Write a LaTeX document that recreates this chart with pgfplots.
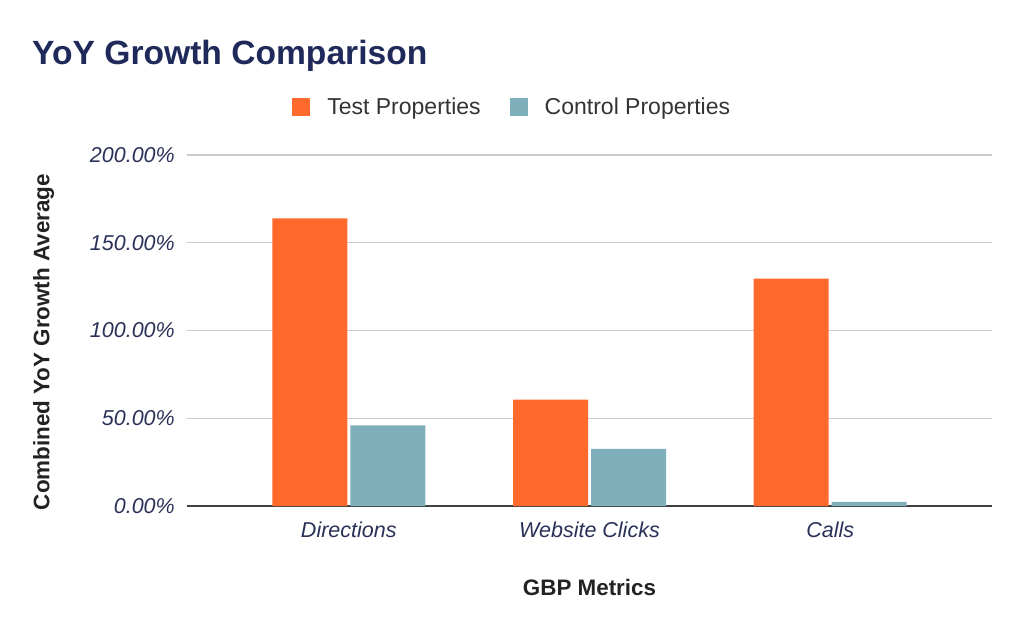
\documentclass[border=0pt]{standalone}
\usepackage{fontspec}
\setmainfont{Liberation Sans}
\usepackage{pgfplots}
\pgfplotsset{compat=1.18}
\definecolor{navy}{HTML}{1F2A5A}
\definecolor{tickc}{HTML}{2A3158}
\definecolor{testc}{HTML}{FF6A2C}
\definecolor{ctrlc}{HTML}{80AFBC}
\definecolor{gridc}{HTML}{CCCCCC}
\definecolor{labc}{HTML}{222222}
\definecolor{legc}{HTML}{333333}
\begin{document}
\begin{tikzpicture}[x=1pt,y=1pt]
\path[use as bounding box] (0,0) rectangle (1024,633);
\node[anchor=base west, inner sep=0, text=navy, font=\fontsize{33.6}{40}\selectfont\bfseries] at (32,568) {YoY Growth Comparison};
\begin{axis}[
  at={(187pt,127pt)}, anchor=south west,
  scale only axis, width=805pt, height=351pt,
  xmin=-0.672, xmax=2.672, ymin=0, ymax=200,
  xtick={0,1,2}, xticklabels={Directions, Website Clicks, Calls},
  ytick={0,50,100,150,200},
  yticklabels={0.00\%,50.00\%,100.00\%,150.00\%,200.00\%},
  ymajorgrids, grid style={gridc, line width=1.2pt},
  axis x line*=bottom, axis y line*=left,
  y axis line style={draw=none},
  x axis line style={-, draw=black!75, line width=1.5pt},
  major tick length=0pt, tick style={draw=none},
  xticklabel style={font=\fontsize{21.5}{26}\selectfont\itshape, text=tickc, anchor=base, yshift=-31pt},
  yticklabel style={font=\fontsize{21.5}{26}\selectfont\itshape, text=tickc, inner sep=0pt, xshift=-12pt},
  xlabel={GBP Metrics},
  xlabel style={at={(axis description cs:0.5,-0.256)}, anchor=base, font=\bfseries\fontsize{22.4}{27}\selectfont, text=labc},
  ylabel={Combined YoY Growth Average},
  ylabel style={at={(axis description cs:-0.178,0.467)}, anchor=center, font=\bfseries\fontsize{22.4}{27}\selectfont, text=labc},
  legend columns=2,
  legend style={draw=none, fill=none, at={(0.404,1.137)}, anchor=center,
    font=\fontsize{23}{27}\selectfont, text=legc,
    /tikz/every odd column/.append style={column sep=15pt},
    /tikz/every even column/.append style={column sep=27pt}},
]
\addplot[ybar, bar width=75pt, bar shift=-39pt, fill=testc, draw=none,
  legend image code/.code={\fill[testc] (0pt,-9pt) rectangle (18pt,9pt);}]
  coordinates {(0,163.9) (1,60.6) (2,129.6)};
\addlegendentry{Test Properties}
\addplot[ybar, bar width=75pt, bar shift=39pt, fill=ctrlc, draw=none,
  legend image code/.code={\fill[ctrlc] (0pt,-9pt) rectangle (18pt,9pt);}]
  coordinates {(0,45.9) (1,32.6) (2,2.4)};
\addlegendentry{Control Properties}
\end{axis}
\end{tikzpicture}
\end{document}
